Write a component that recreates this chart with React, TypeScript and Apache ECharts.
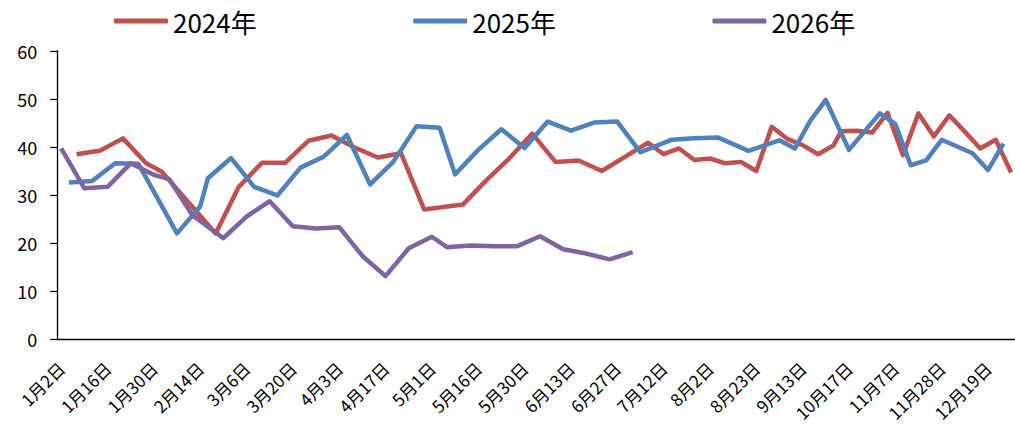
import React, { useEffect, useRef } from "react";
import * as echarts from "echarts";

// Union of the three years' observation dates (month-day), in order
const categories = [
  "1月2日", "1月3日", "1月5日", "1月9日", "1月10日", "1月12日",
  "1月16日", "1月17日", "1月19日", "1月23日", "1月24日", "1月26日",
  "1月30日", "2月2日", "2月6日", "2月7日", "2月9日", "2月13日",
  "2月14日", "2月16日", "2月20日", "2月21日", "2月23日", "2月27日",
  "3月6日", "3月7日", "3月8日", "3月13日", "3月14日", "3月15日",
  "3月20日", "3月21日", "3月22日", "3月27日", "3月28日", "3月29日",
  "4月3日", "4月4日", "4月5日", "4月10日", "4月11日", "4月12日",
  "4月17日", "4月18日", "4月19日", "4月24日", "4月25日", "4月26日",
  "5月1日", "5月2日", "5月8日", "5月9日", "5月10日", "5月15日",
  "5月16日", "5月17日", "5月22日", "5月23日", "5月24日", "5月29日",
  "5月30日", "5月31日", "6月5日", "6月6日", "6月7日", "6月12日",
  "6月13日", "6月14日", "6月19日", "6月20日", "6月21日", "6月26日",
  "6月27日", "6月28日", "7月3日", "7月4日", "7月5日", "7月11日",
  "7月12日", "7月18日", "7月19日", "7月25日", "7月26日", "8月1日",
  "8月2日", "8月8日", "8月9日", "8月15日", "8月16日", "8月22日",
  "8月23日", "8月29日", "8月30日", "9月5日", "9月6日", "9月12日",
  "9月13日", "9月19日", "9月20日", "9月26日", "9月27日", "9月30日",
  "10月17日", "10月18日", "10月24日", "10月25日", "10月31日", "11月1日",
  "11月7日", "11月8日", "11月14日", "11月15日", "11月21日", "11月22日",
  "11月28日", "11月29日", "12月5日", "12月6日", "12月12日", "12月13日",
  "12月19日", "12月20日", "12月26日", "12月27日",
];

const s2024: [string, number][] = [
  ["1月5日", 38.5], ["1月12日", 39.2], ["1月19日", 41.8], ["1月26日", 36.6],
  ["2月2日", 34.9], ["2月20日", 22.0], ["2月27日", 31.7], ["3月8日", 36.7],
  ["3月15日", 36.7], ["3月22日", 41.3], ["3月29日", 42.4], ["4月5日", 39.9],
  ["4月12日", 37.8], ["4月19日", 38.7], ["4月26日", 27.0], ["5月10日", 28.0],
  ["5月17日", 33.0], ["5月24日", 37.6], ["5月31日", 42.8], ["6月7日", 36.9],
  ["6月14日", 37.2], ["6月21日", 35.0], ["7月5日", 40.9], ["7月12日", 38.5],
  ["7月19日", 39.7], ["7月26日", 37.3], ["8月2日", 37.6], ["8月9日", 36.6],
  ["8月16日", 36.9], ["8月23日", 35.0], ["8月30日", 44.2], ["9月6日", 41.7],
  ["9月13日", 40.4], ["9月20日", 38.5], ["9月27日", 40.3], ["9月30日", 43.3],
  ["10月18日", 43.4], ["10月25日", 43.0], ["11月1日", 47.1], ["11月8日", 38.3],
  ["11月15日", 47.0], ["11月22日", 42.2], ["11月29日", 46.6], ["12月6日", 43.2],
  ["12月13日", 39.7], ["12月20日", 41.5], ["12月27日", 34.7],
];

const s2025: [string, number][] = [
  ["1月3日", 32.6], ["1月10日", 32.9], ["1月17日", 36.6], ["1月24日", 36.5],
  ["2月7日", 22.0], ["2月14日", 27.6], ["2月16日", 33.5], ["2月23日", 37.7],
  ["3月7日", 31.7], ["3月14日", 29.9], ["3月21日", 35.7], ["3月28日", 38.0],
  ["4月4日", 42.5], ["4月11日", 32.2], ["4月18日", 36.9], ["4月25日", 44.3],
  ["5月2日", 44.0], ["5月9日", 34.3], ["5月16日", 39.4], ["5月23日", 43.7],
  ["5月30日", 39.8], ["6月6日", 45.3], ["6月13日", 43.4], ["6月20日", 45.1],
  ["6月27日", 45.3], ["7月4日", 38.9], ["7月18日", 41.5], ["7月26日", 41.8],
  ["8月8日", 42.0], ["8月22日", 39.2], ["9月5日", 41.4], ["9月12日", 39.7],
  ["9月19日", 45.5], ["9月26日", 49.8], ["10月17日", 39.4], ["10月31日", 47.0],
  ["11月7日", 44.8], ["11月14日", 36.2], ["11月21日", 37.2], ["11月28日", 41.5],
  ["12月12日", 38.7], ["12月19日", 35.2], ["12月26日", 40.7],
];

const s2026: [string, number][] = [
  ["1月2日", 39.7], ["1月9日", 31.4], ["1月16日", 31.7], ["1月23日", 36.6],
  ["1月30日", 34.2], ["2月6日", 33.3], ["2月13日", 25.8], ["2月21日", 21.0],
  ["3月6日", 25.5], ["3月13日", 28.7], ["3月20日", 23.5], ["3月27日", 23.0],
  ["4月3日", 23.3], ["4月10日", 17.3], ["4月17日", 13.1], ["4月24日", 18.9],
  ["5月1日", 21.3], ["5月8日", 19.1], ["5月15日", 19.5], ["5月22日", 19.3],
  ["5月29日", 19.3], ["6月5日", 21.4], ["6月12日", 18.7], ["6月19日", 17.8],
  ["6月26日", 16.6], ["7月3日", 18.1],
];

const seriesNames = ["2024年", "2025年", "2026年"];
const seriesColors = ["#C0504D", "#4F81BD", "#8064A2"];

const FONT = "'Noto Sans CJK SC', 'Noto Sans', sans-serif";

export default function App() {
  const ref = useRef<HTMLDivElement>(null);

  useEffect(() => {
    if (!ref.current) return;
    const chart = echarts.init(ref.current, undefined, { renderer: "svg" });
    const datasets = [s2024, s2025, s2026];
    chart.setOption({
      animation: false,
      backgroundColor: "#ffffff",
      legend: {
        data: seriesNames,
        left: 114,
        top: 8,
        padding: 0,
        itemGap: 156.5,
        itemWidth: 54,
        itemHeight: 5,
        icon: "roundRect",
        textStyle: { fontSize: 26, color: "#000", fontFamily: FONT },
      },
      grid: { left: 57.3, right: 0, top: 51, bottom: 86, containLabel: false },
      xAxis: {
        type: "category",
        data: categories,
        boundaryGap: true,
        axisLine: { lineStyle: { color: "#000", width: 1.3 } },
        axisTick: { interval: 5, length: 6, lineStyle: { color: "#000", width: 1.3 } },
        axisLabel: {
          interval: 5,
          rotate: 45,
          fontSize: 17,
          color: "#000",
          fontFamily: FONT,
          margin: 26,
        },
        splitLine: { show: false },
      },
      yAxis: {
        type: "value",
        min: 0,
        max: 60,
        interval: 10,
        axisLine: { show: true, lineStyle: { color: "#000", width: 1.3 } },
        axisTick: { show: true, length: 7, lineStyle: { color: "#000", width: 1.3 } },
        axisLabel: { fontSize: 18, color: "#000", fontFamily: FONT, margin: 20 },
        splitLine: { show: false },
      },
      series: datasets.map((d, i) => ({
        name: seriesNames[i],
        type: "line",
        data: d,
        symbol: "none",
        color: seriesColors[i],
        lineStyle: { width: 4.5, color: seriesColors[i], join: "round" },
        z: 2 + i,
      })),
    });
    return () => chart.dispose();
  }, []);

  return (
    <div
      ref={ref}
      style={{ position: "absolute", left: 0, top: 0, width: 1015, height: 425 }}
    />
  );
}
